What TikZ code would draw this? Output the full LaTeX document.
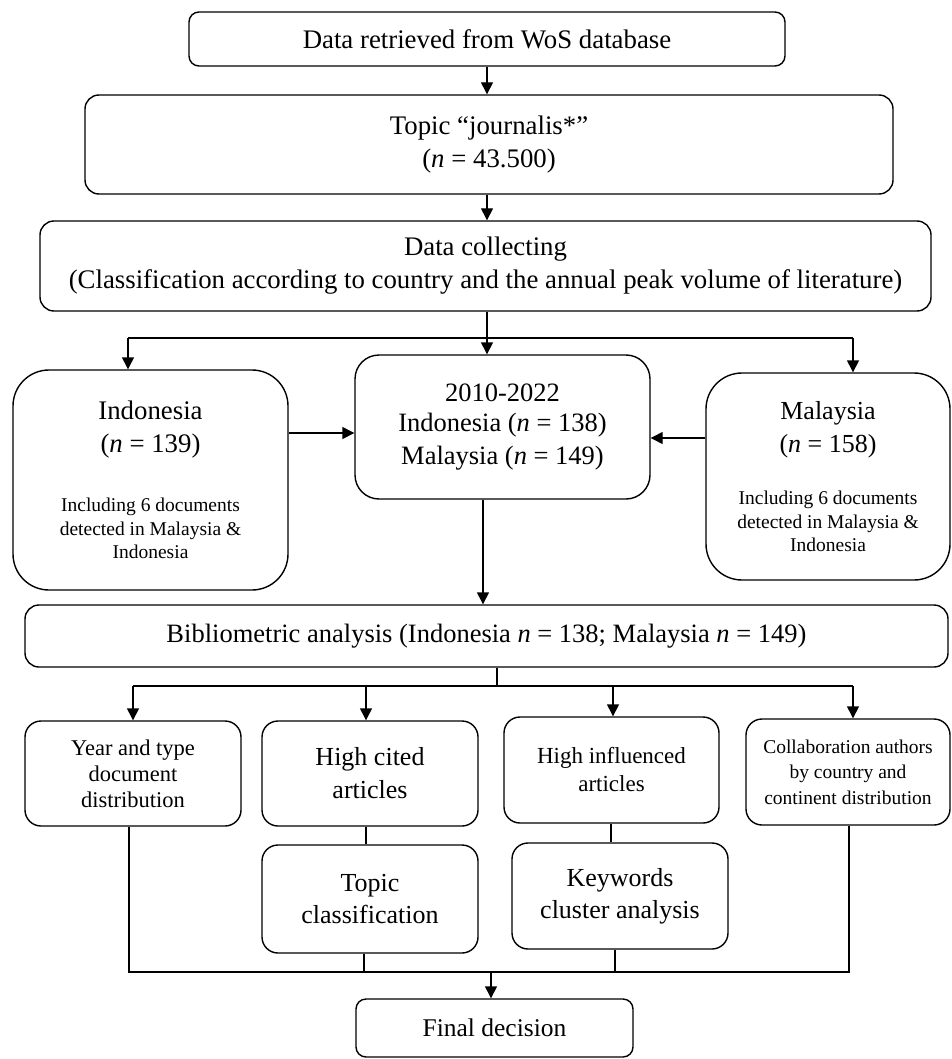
\documentclass[tikz,border=0pt]{standalone}
\usepackage{fontspec}
\setmainfont{Liberation Serif}
\usetikzlibrary{arrows.meta}

\newcommand{\fbig}{\fontsize{26}{33}\selectfont}
\newcommand{\ftop}{\fontsize{26.8}{33}\selectfont}
\newcommand{\fmid}{\fontsize{22.5}{26}\selectfont}
\newcommand{\fsml}{\fontsize{19.5}{23.5}\selectfont}

\tikzset{
  stage/.style={draw, line width=1.4pt, rounded corners=#1, inner sep=0pt, align=flush center, font=\fbig},
  stage/.default=14pt,
  arr/.style={line width=1.4pt, -{Triangle[length=12pt,width=12pt]}},
  con/.style={line width=1.4pt}
}

\begin{document}
\begin{tikzpicture}[x=1pt, y=-1pt]
\useasboundingbox (0,0) rectangle (952,1059);

\node[stage=10pt, minimum width=596pt, minimum height=54pt, font=\ftop] (retr) at (487,39) {Data retrieved from WoS database};
\node[stage, minimum width=808pt, minimum height=99pt, text width=790pt, font=\ftop] (topic) at (489,144.5) {Topic “journalis*”\\(\textit{n} = 43.500)};
\node[stage, minimum width=891pt, minimum height=90pt, text width=880pt] (coll) at (485.5,266) {\fontsize{26.8}{31}\selectfont Data collecting\\(Classification according to country and the annual peak volume of literature)};

\node[stage=36pt, minimum width=275pt, minimum height=220pt, text width=262pt] (indo) at (150.5,480)
  {\fontsize{26.8}{33}\selectfont Indonesia\\(\textit{n} = 139)\par\vspace{36pt}{\fsml Including 6 documents\\detected in Malaysia \&\\Indonesia\par}};
\node[stage=24pt, minimum width=295pt, minimum height=144pt, text width=285pt] (period) at (502.5,427)
  {\fontsize{26.5}{30}\selectfont 2010-2022\\Indonesia (\textit{n} = 138)\\Malaysia (\textit{n} = 149)};
\node[stage=36pt, minimum width=244pt, minimum height=207pt, text width=236pt] (malay) at (828,476.5)
  {Malaysia\\(\textit{n} = 158)\par\vspace{29pt}{\fsml Including 6 documents\\detected in Malaysia \&\\Indonesia\par}};

\node[stage, minimum width=923pt, minimum height=62pt] (biblio) at (486.5,636) {\fontsize{26.5}{31}\selectfont Bibliometric analysis (Indonesia \textit{n} = 138; Malaysia \textit{n} = 149)};

\node[stage=16pt, minimum width=216pt, minimum height=105pt, text width=208pt] (year) at (133,773.5) {\fmid Year and type\\document\\distribution\par};
\node[stage=16pt, minimum width=216pt, minimum height=105pt, text width=208pt] (cited) at (370,773.5) {High cited\\articles};
\node[stage=16pt, minimum width=216pt, minimum height=108pt, text width=208pt] (topiccl) at (370,899) {\fontsize{26}{32}\selectfont Topic\\classification\par};
\node[stage=16pt, minimum width=215pt, minimum height=106pt, text width=208pt] (infl) at (611.5,770) {\fontsize{23}{28}\selectfont High influenced\\articles\par};
\node[stage=16pt, minimum width=216pt, minimum height=106pt, text width=208pt] (keyw) at (620,896) {\fontsize{26}{32}\selectfont Keywords\\cluster analysis\par};
\node[stage=16pt, minimum width=204pt, minimum height=106pt, text width=198pt] (collab) at (848,772) {\fontsize{19.5}{25.5}\selectfont Collaboration authors\\by country and\\continent distribution\par};

\node[stage=10pt, minimum width=277pt, minimum height=58pt] (final) at (494.5,1028) {\fontsize{25.5}{30}\selectfont Final decision};

% top chain
\draw[arr] (retr.south -| 487,0) -- (topic.north -| 487,0);
\draw[arr] (topic.south -| 487,0) -- (coll.north -| 487,0);

% split to the countries
\coordinate (s1) at (487,338);
\coordinate (sL) at (128,338);
\coordinate (sR) at (853,338);
\draw[con] (coll.south -| s1) -- (s1);
\draw[con] (sL) -- (sR);
\draw[arr] (sL) -- (sL |- indo.north);
\draw[arr] (s1) -- (s1 |- period.north);
\draw[arr] (sR) -- (sR |- malay.north);

\draw[arr] (indo.east |- 0,433) -- (period.west |- 0,433);
\draw[arr] (malay.west |- 0,438) -- (period.east |- 0,438);
\draw[arr] (period.south -| 483,0) -- (biblio.north -| 483,0);

% branches of the analysis
\coordinate (b1) at (497,686);
\draw[con] (biblio.south -| b1) -- (b1);
\draw[con] (133,686) -- (853,686);
\foreach \x/\n in {133/year, 366/cited, 613/infl, 853/collab} {
  \draw[arr] (\x,686) -- (\n.north -| \x,0);
}
\draw[con] (cited.south -| 366,0) -- (topiccl.north -| 366,0);
\draw[con] (infl.south -| 611,0) -- (keyw.north -| 611,0);

% join to final decision
\coordinate (jL) at (129,972);
\coordinate (jR) at (849,972);
\draw[con] (year.south -| jL) -- (jL) -- (jR) -- (collab.south -| jR);
\draw[con] (topiccl.south -| 364,0) -- (364,972);
\draw[con] (keyw.south -| 615,0) -- (615,972);
\draw[arr] (491,972) -- (final.north -| 491,0);

\end{tikzpicture}
\end{document}
